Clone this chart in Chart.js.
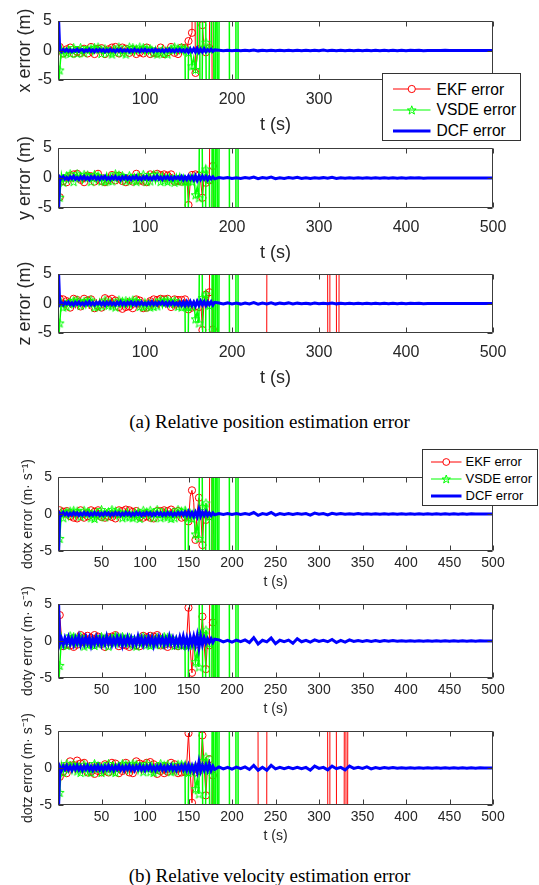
<!DOCTYPE html>
<html><head><meta charset="utf-8">
<script src="https://cdn.jsdelivr.net/npm/chart.js@4.4.1/dist/chart.umd.min.js"></script>
<style>
html,body{margin:0;padding:0;background:#fff;}
body{width:539px;height:885px;position:relative;overflow:hidden;font-family:"Liberation Sans",Arial,Helvetica,sans-serif;}
.legend{position:absolute;background:#fff;border:1px solid #333;box-sizing:border-box;color:#000;z-index:5;}
.legend .txt{position:absolute;white-space:nowrap;}
.legend svg{position:absolute;overflow:visible;}
.caption{position:absolute;left:0;width:539px;text-align:center;font-family:"Liberation Serif","Times New Roman",serif;color:#000;line-height:1;z-index:5;}
</style></head><body>
<script>
// ---------- time grids ----------
const T = [0,2,4,6,8,10,12,14,16,18,
20,22,24,26,28,30,32,34,36,38,
40,42,44,46,48,50,52,54,56,58,
60,62,64,66,68,70,72,74,76,78,
80,82,84,86,88,90,92,94,96,98,
100,102,104,106,108,110,112,114,116,118,
120,122,124,126,128,130,132,134,136,138,
140,142,144,146,148,150,152,154,156,158,160,162,164,166,168,170,172,174,176,178,180];
const T2 = [185,190,195,200,205,210,215,220,225,230,
235,240,245,250,255,260,265,270,275,280,
285,290,295,300,305,310,315,320,325,330,
335,340,345,350,355,360,365,370,375,380,
385,390,395,400,405,410,415,420,425,430,
435,440,445,450,455,460,465,470,475,480,
485,490,495,500];
const xTicksTop = [100,200,300,400,500];
const xTicksBottom = [50,100,150,200,250,300,350,400,450,500];
const yTicks = [-5,0,5];
const seriesNames = ['EKF error','VSDE error','DCF error'];

// shared VSDE divergence crossings (after 180 s)
const vsdeTailT = [182,184,186,196.5,197.5,203.5,204.5,206.5,207.5];
const vsdeTailV = [40,-40,40,40,-40,-40,40,40,-40];

// ---------- x error ----------
const xEkf = [0.3,0.6,-0.4,-0.5,0.4,0.2,-0.6,0.5,-0.3,-0.5,
0.5,-0.2,0.6,-0.4,-0.6,0.3,0.5,-0.5,0.2,0.6,
-0.4,-0.6,0.5,0.3,-0.5,0.4,-0.3,-0.6,0.6,0.2,
-0.5,0.5,-0.4,0.6,-0.2,-0.5,0.4,0.5,-0.6,0.3,
0.6,-0.4,-0.5,0.2,0.5,-0.6,0.4,-0.3,0.6,-0.5,
-0.3,0.5,0.4,-0.6,0.3,-0.4,0.6,-0.5,-0.2,0.5,
0.4,-0.6,0.5,-0.3,-0.5,0.6,0.2,-0.4,0.5,-0.6,
-0.4,0.5,-0.3,0.4,-0.3,1.6,2.3,3.0,40,-3.8,-1.0,0.2,40,4.3,0.2,-0.3,0.2,0.4,40,-40,-40];
const xVsde = [-8,-3.3,0.5,-0.6,0.4,-0.3,0.6,-0.5,-0.4,0.5,
0.6,-0.5,0.3,0.5,-0.6,-0.4,0.6,0.2,-0.5,0.4,
-0.6,0.5,-0.3,0.6,0.4,-0.5,-0.6,0.3,0.5,-0.4,
0.5,-0.6,0.6,-0.3,0.4,0.6,-0.5,-0.4,0.3,-0.6,
0.4,0.6,-0.5,0.5,-0.6,0.3,-0.4,0.6,-0.3,0.5,
-0.6,0.4,-0.5,0.3,0.6,-0.4,0.5,-0.6,0.4,-0.3,
0.6,-0.5,0.4,-0.6,0.5,0.3,-0.4,0.6,-0.5,0.4,
-0.4,0.5,-0.5,0.4,-40,-0.3,0.4,-2.6,-1.2,-3.2,-0.6,40,-40,0.4,40,1.4,-40,0.3,-0.2,40,-40];
const xDcf = [8,0.1,-0.2,0.15,-0.1,0.2,-0.15,0.1,-0.2,0.1,
-0.1,0.2,-0.15,0.1,0.15,-0.2,0.1,-0.1,0.2,-0.15,
0.1,-0.2,0.15,-0.1,0.2,-0.1,0.15,-0.2,0.1,-0.15,
0.2,-0.1,0.1,-0.2,0.15,-0.1,0.2,-0.15,0.1,-0.1,
0.15,-0.2,0.1,-0.15,0.2,-0.1,0.1,-0.2,0.15,-0.1,
0.2,-0.15,0.1,-0.1,0.15,-0.2,0.2,-0.1,0.1,-0.15,
0.1,-0.2,0.15,-0.1,0.2,-0.15,0.1,-0.2,0.15,-0.1,
0.2,-0.15,0.1,-0.2,0.15,-0.3,0.25,-0.2,0.3,-0.25,0.35,-0.3,0.2,-0.25,0.3,-0.2,0.15,-0.1,0.2,-0.15,0.1];
const xDcfTail = [0.05,-0.04,0.06,-0.05,0.04,-0.06,0.05,-0.04,0.08,-0.06,
0.05,-0.04,0.06,-0.05,0.04,-0.05,0.06,-0.04,0.05,-0.04,
0.04,-0.05,0.06,-0.04,0.08,-0.06,0.04,-0.03,0.05,-0.04,
0.03,-0.04,0.05,-0.03,0.04,-0.03,0.03,-0.04,0.03,-0.03,
0.03,-0.03,0.04,-0.03,0.03,-0.02,0.03,-0.03,0.02,-0.02,
0.02,-0.02,0.03,-0.02,0.02,-0.02,0.02,-0.02,0.02,-0.01,
0.01,-0.01,0.01,0];

// ---------- y error ----------
const yEkf = [0.3,-3.2,0.6,-0.5,0.4,-0.7,0.5,0.3,-0.6,0.6,
-0.4,0.7,-0.6,-0.3,0.5,-0.7,0.6,0.4,-0.5,0.3,
0.6,-0.6,-0.4,0.7,0.3,-0.5,0.6,-0.7,0.4,-0.3,
-0.6,0.5,0.7,-0.4,-0.6,0.4,0.6,-0.5,0.3,-0.7,
0.5,-0.3,0.6,-0.6,0.4,0.7,-0.5,-0.4,0.6,-0.6,
0.3,-0.7,0.5,0.6,-0.4,0.4,-0.6,0.7,-0.3,0.5,
-0.5,0.6,-0.7,0.4,-0.4,0.6,0.5,-0.6,0.3,-0.5,
0.5,-0.6,0.4,-0.5,0.3,-4.5,-0.8,0.5,-0.4,0.6,-0.5,0.4,-0.6,-3.3,0.2,-0.8,0.5,-0.4,40,2.0,-40];
const yVsde = [-8,-3.2,0.6,-0.7,0.5,0.4,-0.6,0.7,-0.4,-0.6,
0.5,0.7,-0.5,0.3,-0.7,0.6,-0.4,0.5,0.7,-0.6,
-0.3,0.6,-0.7,0.4,0.6,-0.5,0.3,-0.6,0.7,-0.4,
0.6,-0.5,-0.3,0.7,-0.6,0.5,-0.7,0.4,0.6,-0.5,
-0.7,0.4,0.6,-0.4,0.5,-0.6,0.7,-0.3,-0.5,0.6,
0.4,-0.6,0.7,-0.5,-0.4,0.6,-0.7,0.5,0.3,-0.6,
0.7,-0.4,0.5,-0.6,0.6,-0.3,0.4,-0.7,0.5,-0.5,
0.6,-0.5,0.4,-0.6,-40,-0.5,0.5,-0.6,0.4,-2.8,-1.5,-3.3,40,0.8,-40,1.5,0.3,-0.2,-40,40,-40];
const yDcf = [-8,0.2,-0.1,0.25,-0.2,0.1,-0.25,0.2,-0.1,0.3,
-0.2,0.1,-0.25,0.2,-0.15,0.25,-0.2,0.1,-0.3,0.2,
-0.1,0.25,-0.2,0.15,-0.25,0.2,-0.1,0.3,-0.2,0.1,
-0.25,0.2,-0.15,0.25,-0.2,0.1,-0.3,0.2,-0.15,0.25,
-0.2,0.15,-0.25,0.2,-0.1,0.3,-0.2,0.1,-0.25,0.2,
-0.15,0.25,-0.2,0.1,-0.25,0.2,-0.15,0.3,-0.2,0.15,
-0.25,0.2,-0.1,0.25,-0.2,0.15,-0.25,0.2,-0.1,0.2,
-0.2,0.25,-0.3,0.2,-0.25,0.3,-0.2,0.25,-0.3,0.35,-0.4,0.3,-0.25,0.3,-0.2,0.25,-0.3,0.2,-0.15,0.2,-0.15];
const yDcfTail = [0.06,-0.05,0.08,-0.06,0.05,-0.07,0.06,-0.05,0.15,-0.12,
0.06,-0.05,0.14,-0.12,0.05,-0.06,0.08,-0.05,0.1,-0.08,
0.05,-0.06,0.05,-0.04,0.06,-0.05,0.1,-0.08,0.05,-0.04,
0.04,-0.05,0.04,-0.03,0.05,-0.04,0.03,-0.04,0.03,-0.03,
0.04,-0.03,0.03,-0.03,0.03,-0.02,0.03,-0.03,0.02,-0.02,
0.02,-0.02,0.02,-0.02,0.02,-0.02,0.02,-0.02,0.02,-0.01,
0.01,-0.01,0.01,0];

// ---------- z error ----------
const zEkf = [0.5,0.8,-0.6,0.7,-0.8,0.4,0.9,-0.7,-0.5,0.8,
-0.8,0.6,0.9,-0.5,-0.7,0.8,-0.6,0.5,-0.9,0.7,
0.6,-0.8,0.7,-0.4,0.8,-0.7,-0.6,0.9,-0.5,0.6,
-0.7,0.8,-0.8,0.5,0.7,-0.6,0.8,-0.9,0.4,-0.6,
0.9,-0.5,0.6,-0.8,-0.6,0.7,-0.7,0.5,0.8,-0.8,
0.6,-0.7,0.8,0.4,-0.9,0.7,-0.5,0.6,-0.8,0.8,
-0.6,0.7,-0.7,0.8,0.5,-0.6,-0.8,0.7,-1.0,0.6,
-0.7,0.6,-0.5,0.7,-0.6,-1.0,0.5,-0.7,0.6,-0.5,0.7,-0.6,0.5,-4.5,0.4,1.5,-0.5,1.9,40,-4.4,-40];
const zEkfTailT = [239.5,240.5,309.5,310.5,311.5,312.5,319.5,320.5,322.5,323.5];
const zEkfTailV = [-40,40,40,-40,-40,40,40,-40,-40,40];
const zVsde = [-8,-3.3,0.5,-0.6,0.4,-0.5,0.6,0.3,-0.6,0.5,
-0.4,0.6,-0.5,-0.3,0.6,0.4,-0.6,0.5,-0.4,0.6,
0.5,-0.6,0.3,-0.5,0.6,-0.4,0.5,0.6,-0.6,-0.3,
0.6,-0.4,0.5,-0.6,0.3,0.6,-0.5,0.4,-0.6,0.5,
-0.5,0.4,-0.6,0.6,-0.3,0.5,0.6,-0.5,0.4,-0.6,
0.6,-0.3,0.5,-0.6,0.4,-0.5,0.6,-0.4,0.5,0.6,
-0.6,0.5,-0.4,0.6,-0.5,0.3,-0.6,0.5,0.4,-0.5,
0.5,-0.6,0.4,-0.5,-40,-0.6,0.4,-0.5,0.3,-2.6,-1.4,-3.3,40,1.0,-40,1.6,0.3,-0.3,-40,40,-40];
const zDcf = [8,-0.2,0.15,-0.25,0.2,-0.1,0.25,-0.2,0.1,-0.3,
0.2,-0.15,0.25,-0.2,0.1,-0.25,0.2,-0.15,0.3,-0.2,
0.15,-0.25,0.2,-0.1,0.25,-0.2,0.15,-0.3,0.2,-0.15,
0.25,-0.2,0.1,-0.25,0.2,-0.15,0.3,-0.2,0.15,-0.25,
0.2,-0.1,0.25,-0.2,0.15,-0.3,0.2,-0.15,0.25,-0.2,
0.1,-0.25,0.2,-0.15,0.3,-0.2,0.15,-0.25,0.2,-0.1,
0.25,-0.2,0.15,-0.3,0.2,-0.15,0.25,-0.2,0.1,-0.25,
0.2,-0.3,0.25,-0.35,0.3,-0.25,0.35,-0.3,0.25,-0.4,0.35,-0.3,0.4,-0.25,0.3,-0.35,0.25,-0.2,0.3,-0.25,0.2];
const zDcfTail = [0.08,-0.06,0.1,-0.08,0.06,-0.1,0.08,-0.06,0.15,-0.12,
0.08,-0.06,0.12,-0.1,0.06,-0.05,0.1,-0.08,0.06,-0.05,
0.05,-0.06,0.08,-0.05,0.06,-0.05,0.08,-0.06,0.05,-0.04,
0.04,-0.05,0.05,-0.04,0.04,-0.04,0.03,-0.04,0.03,-0.03,
0.04,-0.03,0.03,-0.03,0.03,-0.02,0.03,-0.03,0.02,-0.02,
0.02,-0.02,0.02,-0.02,0.02,-0.02,0.02,-0.02,0.02,-0.01,
0.01,-0.01,0.01,0];

// ---------- dotx error ----------
const dotxEkf = [-0.3,0.5,-0.4,0.3,-0.5,0.4,0.6,-0.3,0.5,-0.5,
0.4,-0.6,0.3,0.5,-0.4,-0.5,0.6,-0.3,0.4,0.5,
-0.5,0.3,-0.6,0.5,0.4,-0.4,0.3,-0.5,0.6,-0.3,
0.5,-0.4,0.4,-0.6,0.3,0.5,-0.5,0.4,-0.3,0.6,
-0.4,0.5,-0.5,0.3,-0.6,0.4,0.5,-0.4,0.3,-0.5,
0.6,-0.3,0.4,-0.5,0.5,-0.6,0.3,0.4,-0.5,0.4,
-0.3,0.5,-0.6,0.4,-0.4,0.6,-0.5,0.3,-0.6,0.4,
0.4,-0.5,0.3,-0.4,0.5,-1.0,2.4,3.2,1.6,-3.5,0.3,2.2,0.3,-4.2,0.4,-0.8,0.5,-0.3,40,-40,-40];
const dotxVsde = [-8,-3.3,0.4,-0.5,0.5,0.3,-0.6,0.4,-0.4,0.5,
-0.5,0.4,0.6,-0.3,-0.5,0.5,-0.4,0.3,0.6,-0.5,
0.4,-0.6,0.5,-0.3,0.4,0.6,-0.5,-0.4,0.5,0.3,
-0.5,0.6,-0.4,0.4,-0.6,0.3,0.5,-0.5,0.4,-0.3,
0.6,-0.4,0.3,-0.5,0.5,-0.3,0.6,-0.6,0.4,0.5,
-0.4,0.3,-0.6,0.5,0.4,-0.5,0.3,0.6,-0.4,-0.5,
0.5,-0.3,0.6,-0.4,0.3,-0.6,0.5,-0.5,0.4,0.6,
-0.5,0.4,-0.3,0.5,-40,-0.5,0.4,-0.6,0.3,-2.7,-1.5,-3.3,40,1.0,-40,1.5,0.3,-0.3,-40,40,-40];
const dotxDcf = [-8,0.1,-0.15,0.2,-0.1,0.15,-0.2,0.1,-0.15,0.2,
-0.1,0.15,-0.2,0.1,-0.15,0.2,-0.1,0.15,-0.2,0.1,
-0.15,0.2,-0.1,0.15,-0.2,0.1,-0.15,0.2,-0.1,0.15,
-0.2,0.1,-0.15,0.2,-0.1,0.15,-0.2,0.1,-0.15,0.2,
-0.1,0.15,-0.2,0.1,-0.15,0.2,-0.1,0.15,-0.2,0.1,
-0.15,0.2,-0.1,0.15,-0.2,0.1,-0.15,0.2,-0.1,0.15,
-0.2,0.1,-0.15,0.2,-0.1,0.15,-0.2,0.1,-0.15,0.2,
-0.1,0.2,-0.15,0.25,-0.2,0.3,-0.25,0.2,-0.3,0.25,-0.35,0.6,-0.3,0.25,-0.2,0.3,-0.2,0.15,-0.2,0.15,-0.1];
const dotxDcfTail = [0.06,-0.05,0.06,-0.05,0.05,-0.06,0.06,-0.05,0.2,-0.18,
0.06,-0.05,0.2,-0.15,0.05,-0.05,0.06,-0.05,0.05,-0.04,
0.05,-0.15,0.12,-0.04,0.05,-0.12,0.1,-0.04,0.05,-0.04,
0.04,-0.04,0.05,-0.03,0.04,-0.04,0.03,-0.04,0.03,-0.03,
0.03,-0.03,0.04,-0.03,0.03,-0.02,0.03,-0.03,0.02,-0.02,
0.02,-0.02,0.02,-0.02,0.02,-0.02,0.02,-0.02,0.02,-0.01,
0.01,-0.01,0.01,0];

// ---------- doty error ----------
const dotyEkf = [-0.2,3.5,0.5,-0.7,0.6,-0.5,0.8,-0.6,0.4,-0.8,
0.7,-0.5,0.6,0.8,-0.7,0.5,-0.6,0.7,-0.8,0.4,
-0.6,0.8,-0.5,0.6,-0.7,-0.4,0.7,-0.8,0.6,0.5,
-0.7,0.6,-0.6,0.8,0.4,-0.7,0.5,-0.5,0.8,-0.6,
0.6,-0.8,0.7,-0.4,0.5,-0.6,0.8,-0.7,-0.5,0.7,
-0.6,0.5,-0.8,0.7,-0.4,0.6,-0.7,0.8,0.5,-0.6,
0.7,-0.5,0.6,-0.8,0.6,-0.4,0.7,-0.6,0.5,-0.7,
0.6,-0.5,0.7,-0.6,0.5,4.5,-1.0,-4.3,0.6,-0.5,0.8,0.4,0.6,3.3,-0.5,-3.8,0.3,-0.6,40,2.5,-40];
const dotyVsde = [-8,-3.3,0.6,-0.5,0.4,-0.6,0.5,0.7,-0.4,0.6,
-0.6,0.4,-0.5,0.6,0.5,-0.7,0.4,-0.5,0.6,-0.4,
0.5,-0.6,0.7,-0.4,-0.5,0.6,-0.6,0.4,0.5,-0.7,
0.6,0.4,-0.5,0.7,-0.6,0.5,-0.4,0.6,-0.5,0.4,
-0.6,0.5,0.6,-0.5,0.4,-0.7,0.5,0.4,-0.6,0.6,
0.4,-0.5,0.6,-0.6,0.7,-0.4,-0.5,0.5,0.6,-0.5,
-0.4,0.6,-0.6,0.5,-0.5,0.4,0.6,-0.6,0.5,-0.4,
0.5,-0.6,0.4,-0.5,-40,-0.6,0.5,-0.5,0.4,-2.8,-1.5,-3.5,40,1.0,-40,1.5,0.3,-0.3,-40,40,-40];
const dotyDcf = [8,-0.4,0.3,-0.5,0.4,-0.3,0.5,-0.4,0.3,-0.5,
0.4,-0.3,0.6,-0.5,0.3,-0.4,0.5,-0.3,0.4,-0.6,
0.3,-0.4,0.5,-0.3,0.4,-0.5,0.3,-0.4,0.6,-0.3,
0.4,-0.5,0.3,-0.4,0.5,-0.3,0.4,-0.6,0.3,-0.4,
0.5,-0.3,0.4,-0.5,0.3,-0.4,0.6,-0.3,0.4,-0.5,
0.3,-0.4,0.5,-0.3,0.4,-0.6,0.3,-0.4,0.5,-0.3,
0.4,-0.5,0.3,-0.4,0.6,-0.3,0.4,-0.5,0.3,-0.4,
0.5,-0.4,0.6,-0.5,0.4,-0.6,0.5,-0.4,0.6,-0.5,0.7,-0.9,0.6,-0.5,0.4,-0.3,0.3,-0.2,0.3,-0.2,0.25];
const dotyDcfTail = [0.15,-0.12,0.1,-0.15,0.12,-0.1,0.15,-0.2,0.45,-0.4,
0.1,-0.12,0.4,-0.35,0.1,-0.08,0.12,-0.3,0.3,-0.1,
0.08,-0.15,0.15,-0.06,0.08,-0.1,0.2,-0.2,0.08,-0.15,
0.15,-0.06,0.06,-0.05,0.06,-0.05,0.05,-0.06,0.05,-0.04,
0.05,-0.04,0.04,-0.04,0.04,-0.03,0.04,-0.03,0.03,-0.03,
0.03,-0.03,0.03,-0.02,0.03,-0.02,0.02,-0.02,0.02,-0.02,
0.02,-0.01,0.01,0];

// ---------- dotz error ----------
const dotzEkf = [-0.3,-1.2,0.8,-0.5,0.6,-0.7,0.5,0.9,-0.6,0.4,
-0.7,1.0,-0.5,0.6,-0.8,0.7,0.4,-0.6,0.8,-0.5,
0.6,-0.8,0.7,-0.4,0.8,-0.6,-0.7,0.5,0.9,-0.6,
-0.5,0.7,-0.8,0.6,0.5,-0.7,0.8,-0.4,-0.6,0.7,
0.8,-0.6,0.5,-0.7,0.6,0.9,-0.5,0.6,-0.8,0.4,
-0.6,0.7,-0.5,0.8,-0.7,0.5,0.6,-0.8,0.7,-0.4,
0.6,-0.7,0.8,-0.5,-0.6,0.7,-0.8,0.5,0.6,-0.7,
0.5,-0.6,0.7,-0.5,0.6,4.7,-0.5,-4.7,0.5,-0.6,0.7,-0.4,0.5,4.4,0.3,-3.7,0.6,1.2,-40,-1.0,40];
const dotzEkfTailT = [229.5,230.5,239.5,240.5,309.5,310.5,311.5,312.5,319.5,320.5,328.5,329.5,330.5,331.5,332.5,333.5];
const dotzEkfTailV = [40,-40,-40,40,40,-40,-40,40,40,-40,-40,40,40,-40,-40,40];
const dotzVsde = [-8,-3.3,0.5,-0.6,0.4,0.6,-0.5,0.3,-0.6,0.5,
0.6,-0.4,0.5,-0.6,-0.3,0.5,0.6,-0.5,0.4,-0.6,
-0.5,0.6,-0.4,0.3,0.6,-0.6,0.5,-0.4,-0.5,0.6,
0.4,-0.5,0.6,-0.6,0.5,0.3,-0.4,0.6,-0.5,0.5,
-0.6,0.4,-0.5,0.6,-0.4,0.5,-0.6,0.3,0.6,-0.5,
0.5,0.6,-0.4,-0.5,0.6,-0.6,0.4,-0.3,0.5,0.6,
-0.5,0.4,-0.6,0.5,0.3,-0.5,0.6,-0.4,-0.6,0.5,
-0.4,0.5,-0.6,0.4,-40,-0.6,0.4,-0.5,0.3,-2.8,-1.5,-3.5,40,1.0,-40,1.5,0.3,-0.3,-40,40,-40];
const dotzDcf = [-8,0.2,-0.3,0.25,-0.2,0.3,-0.25,0.2,-0.3,0.25,
-0.2,0.3,-0.25,0.2,-0.3,0.25,-0.2,0.3,-0.25,0.2,
-0.3,0.25,-0.2,0.3,-0.25,0.2,-0.3,0.25,-0.2,0.3,
-0.25,0.2,-0.3,0.25,-0.2,0.3,-0.25,0.2,-0.3,0.25,
-0.2,0.3,-0.25,0.2,-0.3,0.25,-0.2,0.3,-0.25,0.2,
-0.3,0.25,-0.2,0.3,-0.25,0.2,-0.3,0.25,-0.2,0.3,
-0.25,0.2,-0.3,0.25,-0.2,0.3,-0.25,0.2,-0.3,0.25,
-0.2,0.3,-0.25,0.35,-0.3,0.4,-0.35,0.3,-0.4,0.35,-0.5,0.8,-0.4,0.35,-0.3,0.4,-0.3,0.5,-0.3,0.25,-0.2];
const dotzDcfTail = [0.15,-0.12,0.1,-0.15,0.12,-0.1,0.15,-0.2,0.35,-0.3,
0.1,-0.3,0.35,-0.12,0.1,-0.08,0.1,-0.08,0.08,-0.1,
0.08,-0.3,0.25,-0.06,0.08,-0.25,0.25,-0.1,0.08,-0.25,
0.25,-0.06,0.08,-0.05,0.15,-0.12,0.05,-0.06,0.05,-0.04,
0.05,-0.04,0.04,-0.04,0.04,-0.03,0.04,-0.03,0.03,-0.03,
0.03,-0.03,0.03,-0.02,0.03,-0.02,0.02,-0.02,0.02,-0.02,
0.02,-0.01,0.01,0];

// ---------- sanity check ----------
(function(){
  const heads = {xEkf,xVsde,xDcf,yEkf,yVsde,yDcf,zEkf,zVsde,zDcf,dotxEkf,dotxVsde,dotxDcf,dotyEkf,dotyVsde,dotyDcf,dotzEkf,dotzVsde,dotzDcf};
  const tails = {xDcfTail,yDcfTail,zDcfTail,dotxDcfTail,dotyDcfTail,dotzDcfTail};
  const bad = [];
  for (const k in heads) if (heads[k].length !== T.length) bad.push(k+':'+heads[k].length);
  for (const k in tails) if (tails[k].length !== T2.length) bad.push(k+':'+tails[k].length);
  if (bad.length) throw new Error('length mismatch '+bad.join(', '));
})();

// ---------- drawing ----------
const FONT = '"Liberation Sans", Arial, Helvetica, sans-serif';
const AXC = '#262626';
const RED = '#ff0000', GREEN = '#00ff00', BLUE = '#0000ff';

function pts(ts, vs){ return ts.map((t,i)=>({x:t, y:vs[i]})); }

function starCanvas(color, r){
  const s = Math.ceil(r*2+3);
  const c = document.createElement('canvas'); c.width = s; c.height = s;
  const g = c.getContext('2d');
  g.strokeStyle = color; g.lineWidth = 1;
  g.beginPath();
  for (let i=0;i<10;i++){
    const rr = i%2===0 ? r : r*0.4;
    const a = -Math.PI/2 + i*Math.PI/5;
    const x = s/2 + rr*Math.cos(a), y = s/2 + 0.5 + rr*Math.sin(a);
    if (i===0) g.moveTo(x,y); else g.lineTo(x,y);
  }
  g.closePath(); g.stroke();
  return c;
}
const STAR = starCanvas(GREEN, 4.6);

function drawFrame(chart){
  const ctx = chart.ctx, a = chart.chartArea, sx = chart.scales.x, sy = chart.scales.y;
  const L = Math.round(a.left)+0.5, R = Math.round(a.right)-0.5, Tp = Math.round(a.top)+0.5, B = Math.round(a.bottom)-0.5;
  ctx.save();
  ctx.globalAlpha = 1;
  ctx.setLineDash([]);
  ctx.strokeStyle = '#3c3c3c';
  ctx.lineWidth = 1;
  ctx.beginPath();
  ctx.moveTo(L, Tp); ctx.lineTo(R, Tp); ctx.lineTo(R, B); ctx.lineTo(L, B); ctx.closePath();
  const tl = 5;
  sx.ticks.forEach(t=>{
    const px = Math.round(sx.getPixelForValue(t.value)) + 0.5;
    ctx.moveTo(px, B); ctx.lineTo(px, B-tl);
    ctx.moveTo(px, Tp); ctx.lineTo(px, Tp+tl);
  });
  sy.ticks.forEach(t=>{
    const py = Math.round(sy.getPixelForValue(t.value)) + 0.5;
    ctx.moveTo(L, py); ctx.lineTo(L+tl, py);
    ctx.moveTo(R, py); ctx.lineTo(R-tl, py);
  });
  ctx.stroke();
  ctx.restore();
}
const framePlugin = { id: 'axesFrame', afterDatasetsDraw(chart){ drawFrame(chart); } };

const PAD_TOP = 26;
function makePanel(p){
  const cv = document.createElement('canvas');
  const h = PAD_TOP + (p.bottom - p.top) + p.xAxisH;
  cv.width = 539; cv.height = h;
  cv.style.cssText = 'position:absolute;left:0;top:'+(p.top-PAD_TOP)+'px;width:539px;height:'+h+'px;';
  document.body.appendChild(cv);

  const marker = ctx => (ctx.dataIndex < T.length && ctx.dataIndex % 2 === 1) ? p.mr : 0;
  const ekfData = pts(T, p.ekf).concat(pts(p.ekfTailT || [], p.ekfTailV || []));
  const vsdeData = pts(T, p.vsde).concat(pts(vsdeTailT, vsdeTailV));
  const dcfData = pts(T, p.dcf).concat(pts(T2, p.dcfTail));

  new Chart(cv, {
    type: 'line',
    data: { datasets: [
      { label: seriesNames[2], data: dcfData, borderColor: BLUE, borderWidth: 3, pointRadius: 0, tension: 0, clip: 0 },
      { label: seriesNames[1], data: vsdeData, borderColor: GREEN, borderWidth: 1.5, pointStyle: STAR, pointRadius: marker, tension: 0, clip: 0 },
      { label: seriesNames[0], data: ekfData, borderColor: RED, borderWidth: 1, pointStyle: 'circle', pointRadius: marker, pointBorderColor: RED, pointBackgroundColor: 'rgba(0,0,0,0)', pointBorderWidth: 1, tension: 0, clip: 0 }
    ]},
    options: {
      responsive: false, maintainAspectRatio: false, animation: false, devicePixelRatio: 1,
      events: [],
      layout: { padding: { top: PAD_TOP, right: 46, left: 0, bottom: 0 } },
      plugins: { legend: { display: false }, tooltip: { enabled: false } },
      scales: {
        x: {
          type: 'linear', min: 0, max: 500,
          afterBuildTicks: s => { s.ticks = p.xTicks.map(v=>({value:v})); },
          afterFit: s => { s.height = p.xAxisH; },
          grid: { display: false, drawTicks: false }, border: { display: false },
          ticks: { font: { family: FONT, size: p.tickSize }, color: AXC, padding: p.xTickPad, maxRotation: 0, autoSkip: false },
          title: { display: true, text: 't (s)', font: { family: FONT, size: p.titleSize }, color: AXC, padding: { top: 0, bottom: 0 } }
        },
        y: {
          type: 'linear', min: -5, max: 5,
          afterBuildTicks: s => { s.ticks = yTicks.map(v=>({value:v})); },
          afterFit: s => { s.width = 58; },
          grid: { display: false, drawTicks: false }, border: { display: false },
          ticks: { font: { family: FONT, size: p.tickSize }, color: AXC, padding: 6 },
          title: { display: true, text: p.yTitle, font: { family: FONT, size: p.titleSize }, color: AXC, padding: { top: p.yTitlePad, bottom: 0 } }
        }
      }
    },
    plugins: [framePlugin]
  });
}

const topCommon = { xTicks: xTicksTop, tickSize: 16, titleSize: 18, xAxisH: 56, xTickPad: 10, yTitlePad: 14, mr: 3.6 };
const botCommon = { xTicks: xTicksBottom, tickSize: 14, titleSize: 14, xAxisH: 40, xTickPad: 4, yTitlePad: 20, mr: 3.6 };

makePanel(Object.assign({}, topCommon, { top: 21, bottom: 80, yTitle: 'x error (m)', ekf: xEkf, vsde: xVsde, dcf: xDcf, dcfTail: xDcfTail }));
makePanel(Object.assign({}, topCommon, { top: 148, bottom: 208, yTitle: 'y error (m)', ekf: yEkf, vsde: yVsde, dcf: yDcf, dcfTail: yDcfTail }));
makePanel(Object.assign({}, topCommon, { top: 274, bottom: 333, yTitle: 'z error (m)', ekf: zEkf, ekfTailT: zEkfTailT, ekfTailV: zEkfTailV, vsde: zVsde, dcf: zDcf, dcfTail: zDcfTail }));
makePanel(Object.assign({}, botCommon, { top: 477, bottom: 551, yTitle: 'dotx error (m\u00b7 s\u207b\u00b9)', ekf: dotxEkf, vsde: dotxVsde, dcf: dotxDcf, dcfTail: dotxDcfTail }));
makePanel(Object.assign({}, botCommon, { top: 604, bottom: 678, yTitle: 'doty error (m\u00b7 s\u207b\u00b9)', ekf: dotyEkf, vsde: dotyVsde, dcf: dotyDcf, dcfTail: dotyDcfTail }));
makePanel(Object.assign({}, botCommon, { top: 731, bottom: 805, yTitle: 'dotz error (m\u00b7 s\u207b\u00b9)', ekf: dotzEkf, ekfTailT: dotzEkfTailT, ekfTailV: dotzEkfTailV, vsde: dotzVsde, dcf: dotzDcf, dcfTail: dotzDcfTail }));

// ---------- legends ----------
function starPoints(cx, cy, r){
  const a = [];
  for (let i=0;i<10;i++){ const rr = i%2===0 ? r : r*0.4; const ang = -Math.PI/2 + i*Math.PI/5; a.push((cx+rr*Math.cos(ang)).toFixed(2)+','+(cy+rr*Math.sin(ang)).toFixed(2)); }
  return a.join(' ');
}
function makeLegend(L){
  const d = document.createElement('div');
  d.className = 'legend';
  d.style.cssText = 'left:'+L.left+'px;top:'+L.top+'px;width:'+L.w+'px;height:'+L.h+'px;font-size:'+L.fs+'px;';
  const cols = [RED, GREEN, BLUE];
  const ns = 'http://www.w3.org/2000/svg';
  seriesNames.forEach((name, i)=>{
    const cy = L.rows[i];
    const w = L.lx2 - L.lx1;
    const svg = document.createElementNS(ns, 'svg');
    svg.setAttribute('width', w); svg.setAttribute('height', 14);
    svg.style.left = L.lx1+'px'; svg.style.top = (cy-7)+'px';
    const ln = document.createElementNS(ns, 'line');
    ln.setAttribute('x1', 0); ln.setAttribute('x2', w); ln.setAttribute('y1', 7); ln.setAttribute('y2', 7);
    ln.setAttribute('stroke', cols[i]); ln.setAttribute('stroke-width', i===2 ? 3 : 1);
    svg.appendChild(ln);
    if (i===0){
      const c = document.createElementNS(ns, 'circle');
      c.setAttribute('cx', w/2); c.setAttribute('cy', 7); c.setAttribute('r', L.mr);
      c.setAttribute('fill', '#fff'); c.setAttribute('stroke', RED); c.setAttribute('stroke-width', 1);
      svg.appendChild(c);
    } else if (i===1){
      const s = document.createElementNS(ns, 'polygon');
      s.setAttribute('points', starPoints(w/2, 7.4, L.mr+1));
      s.setAttribute('fill', 'none'); s.setAttribute('stroke', GREEN); s.setAttribute('stroke-width', 1);
      svg.appendChild(s);
    }
    d.appendChild(svg);
    const t = document.createElement('div');
    t.className = 'txt';
    const lh = Math.round(L.fs*1.2);
    t.style.cssText = 'left:'+L.tx+'px;top:'+(cy - lh/2)+'px;line-height:'+lh+'px;';
    t.textContent = name;
    d.appendChild(t);
  });
  document.body.appendChild(d);
}
makeLegend({ left: 382, top: 73, w: 139, h: 68, fs: 15.6, rows: [15, 35.5, 56.5], lx1: 9.5, lx2: 47, tx: 53.5, mr: 3.6 });
makeLegend({ left: 422, top: 449, w: 116, h: 57, fs: 13, rows: [12, 29, 46], lx1: 8, lx2: 38.5, tx: 42.5, mr: 3.4 });

// ---------- captions ----------
function caption(text, top){
  const d = document.createElement('div');
  d.className = 'caption';
  d.style.cssText = 'top:'+top+'px;font-size:19px;';
  d.textContent = text;
  document.body.appendChild(d);
}
caption('(a) Relative position estimation error', 412);
caption('(b) Relative velocity estimation error', 866);
</script>
</body></html>
